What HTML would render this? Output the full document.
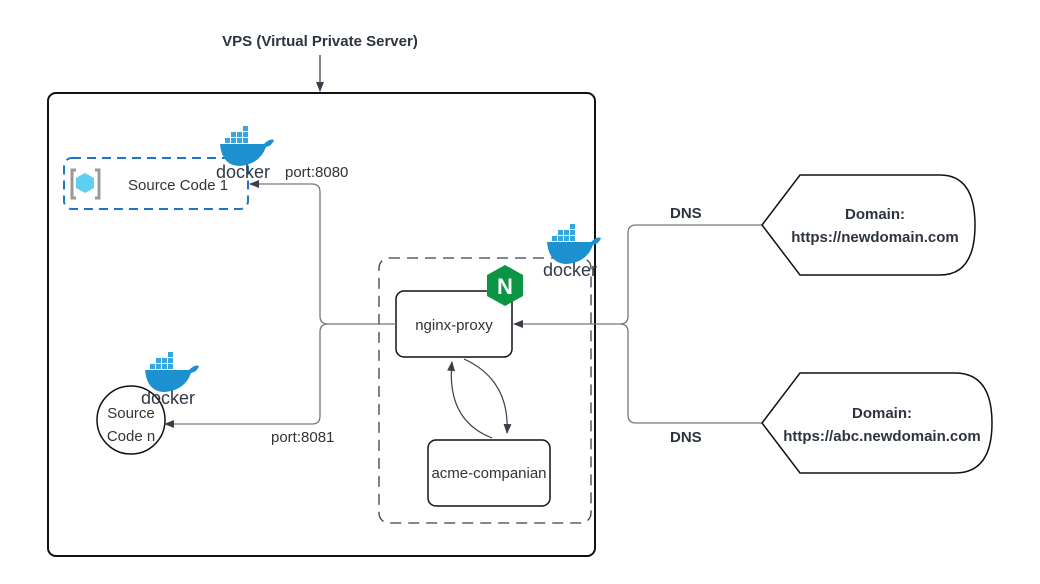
<!DOCTYPE html>
<html><head><style>body{margin:0;background:#fff}svg{display:block}text{font-family:"Liberation Sans",sans-serif}</style></head><body>
<svg width="1040" height="584" viewBox="0 0 1040 584">
<defs>
<marker id="a" markerWidth="10" markerHeight="10" refX="9" refY="5" orient="auto" markerUnits="userSpaceOnUse"><path d="M0,1 L10,5 L0,9 Z" fill="#3a3f4a"/></marker>
<g id="dk">
<path d="M0,14 L44,14 Q50,8 54,10 Q52,16 46,17 Q40,34 20,36 Q2,36 0,14 Z" fill="#1d91d0"/>
<g fill="#35a7dc"><rect x="5" y="8" width="5" height="5"/><rect x="11" y="8" width="5" height="5"/><rect x="17" y="8" width="5" height="5"/><rect x="23" y="8" width="5" height="5"/><rect x="11" y="2" width="5" height="5"/><rect x="17" y="2" width="5" height="5"/><rect x="23" y="2" width="5" height="5"/><rect x="23" y="-4" width="5" height="5"/></g>
<text x="-4" y="48" font-size="18" fill="#2f3a45">docker</text>
</g>
</defs>
<text x="320" y="46" text-anchor="middle" font-size="15" font-weight="bold" fill="#2d3440">VPS (Virtual  Private Server)</text>
<line x1="320" y1="55" x2="320" y2="91" stroke="#3a3f4a" stroke-width="1.3" marker-end="url(#a)"/>
<rect x="48" y="93" width="547" height="463" rx="8" fill="none" stroke="#111" stroke-width="2"/>
<rect x="379" y="258" width="212" height="265" rx="10" fill="none" stroke="#3a3f4a" stroke-width="1.3" stroke-dasharray="11,7"/>
<rect x="64" y="158" width="184" height="51" rx="8" fill="none" stroke="#1f74d0" stroke-width="2" stroke-dasharray="9,6"/>
<path d="M76,170 h-4 v28 h4 M95,170 h4 v28 h-4" stroke="#999" stroke-width="3" fill="none"/>
<path d="M85,173 l9,5 v10 l-9,5 l-9,-5 v-10 z" fill="#5bd0f0"/>
<text x="128" y="190" font-size="15" fill="#333">Source Code 1</text>
<circle cx="131" cy="420" r="34" fill="#fff" stroke="#111" stroke-width="1.5"/>
<text x="131" y="418" text-anchor="middle" font-size="15" fill="#333">Source</text>
<text x="131" y="441" text-anchor="middle" font-size="15" fill="#333">Code n</text>
<use href="#dk" x="220" y="130"/>
<use href="#dk" x="547" y="228"/>
<use href="#dk" x="145" y="356"/>
<rect x="396" y="291" width="116" height="66" rx="8" fill="#fff" stroke="#111" stroke-width="1.5"/>
<text x="454" y="330" text-anchor="middle" font-size="15" fill="#333">nginx-proxy</text>
<path d="M505,265 l18,10 v21 l-18,10 l-18,-10 v-21 z" fill="#0b9444"/>
<text x="505" y="294" text-anchor="middle" font-size="22" font-weight="bold" fill="#fff">N</text>
<rect x="428" y="440" width="122" height="66" rx="8" fill="#fff" stroke="#111" stroke-width="1.5"/>
<text x="489" y="478" text-anchor="middle" font-size="15" fill="#333">acme-companian</text>
<path d="M464,359 Q510,380 507,433" fill="none" stroke="#3a3f4a" stroke-width="1.2" marker-end="url(#a)"/>
<path d="M492,438 Q446,420 452,362" fill="none" stroke="#3a3f4a" stroke-width="1.2" marker-end="url(#a)"/>
<path d="M396,324 H328 Q320,324 320,316 V192 Q320,184 312,184 H250" fill="none" stroke="#777" stroke-width="1.3" marker-end="url(#a)"/>
<path d="M328,324 Q320,324 320,332 V416 Q320,424 312,424 H165" fill="none" stroke="#777" stroke-width="1.3" marker-end="url(#a)"/>
<text x="285" y="177" font-size="15" fill="#333">port:8080</text>
<text x="271" y="442" font-size="15" fill="#333">port:8081</text>
<path d="M762,225 H636 Q628,225 628,233 V316 Q628,324 620,324 H514" fill="none" stroke="#777" stroke-width="1.3" marker-end="url(#a)"/>
<path d="M762,423 H636 Q628,423 628,415 V332 Q628,324 620,324" fill="none" stroke="#777" stroke-width="1.3"/>
<text x="670" y="218" font-size="15" font-weight="bold" fill="#2d3440">DNS</text>
<text x="670" y="442" font-size="15" font-weight="bold" fill="#2d3440">DNS</text>
<path d="M762,225 L800,175 H940 Q975,175 975,225 Q975,275 940,275 H800 Z" fill="#fff" stroke="#111" stroke-width="1.5"/>
<text x="875" y="219" text-anchor="middle" font-size="15" font-weight="bold" fill="#2d3440">Domain:</text>
<text x="875" y="242" text-anchor="middle" font-size="15" font-weight="bold" fill="#2d3440">https://newdomain.com</text>
<path d="M762,423 L800,373 H955 Q992,373 992,423 Q992,473 955,473 H800 Z" fill="#fff" stroke="#111" stroke-width="1.5"/>
<text x="882" y="418" text-anchor="middle" font-size="15" font-weight="bold" fill="#2d3440">Domain:</text>
<text x="882" y="441" text-anchor="middle" font-size="15" font-weight="bold" fill="#2d3440">https://abc.newdomain.com</text>
</svg>
</body></html>
